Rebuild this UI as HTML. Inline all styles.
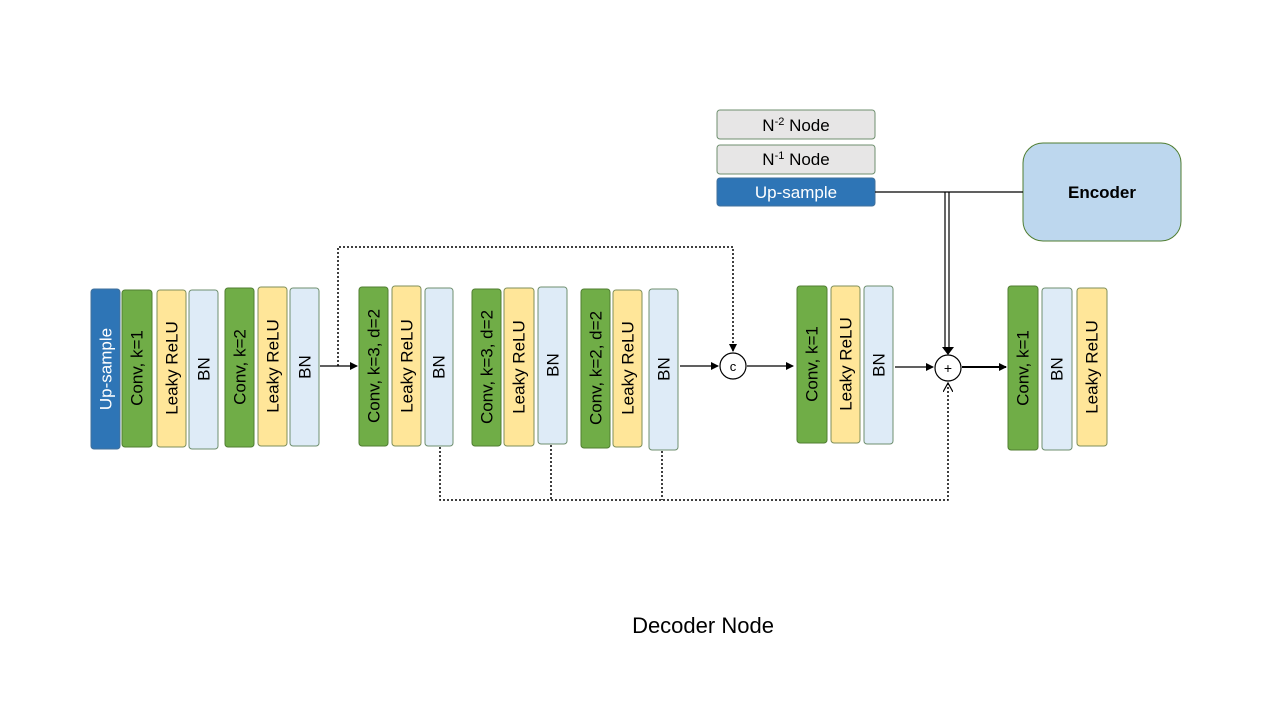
<!DOCTYPE html>
<html><head><meta charset="utf-8"><style>
html,body{margin:0;padding:0;background:#fff;}
svg{display:block;font-family:"Liberation Sans",sans-serif;}
</style></head><body>
<svg width="1275" height="707" viewBox="0 0 1275 707" xmlns="http://www.w3.org/2000/svg">
<defs>
<marker id="a" markerWidth="8" markerHeight="8" refX="7" refY="4" orient="auto" markerUnits="userSpaceOnUse"><path d="M0,0 L8,4 L0,8 z" fill="#000"/></marker>
<marker id="o" markerWidth="10" markerHeight="10" refX="9" refY="5" orient="auto" markerUnits="userSpaceOnUse"><path d="M0,0 L9,5 L0,10" fill="none" stroke="#000" stroke-width="1.2"/></marker>
</defs>
<g stroke-width="1">
<rect x="91" y="289" width="29" height="160" rx="3" fill="#2e75b6" stroke="#41719c"/>
<rect x="122" y="290" width="30" height="157" rx="3" fill="#70ad47" stroke="#507e32"/>
<rect x="157" y="290" width="29" height="157" rx="3" fill="#ffe699" stroke="#7f8f5a"/>
<rect x="189" y="290" width="29" height="159" rx="3" fill="#deebf7" stroke="#6f8f6f"/>
<rect x="225" y="288" width="29" height="159" rx="3" fill="#70ad47" stroke="#507e32"/>
<rect x="258" y="287" width="29" height="159" rx="3" fill="#ffe699" stroke="#7f8f5a"/>
<rect x="290" y="288" width="29" height="158" rx="3" fill="#deebf7" stroke="#6f8f6f"/>
<rect x="359" y="287" width="29" height="159" rx="3" fill="#70ad47" stroke="#507e32"/>
<rect x="392" y="286" width="29" height="160" rx="3" fill="#ffe699" stroke="#7f8f5a"/>
<rect x="425" y="288" width="28" height="158" rx="3" fill="#deebf7" stroke="#6f8f6f"/>
<rect x="472" y="289" width="29" height="157" rx="3" fill="#70ad47" stroke="#507e32"/>
<rect x="504" y="288" width="30" height="158" rx="3" fill="#ffe699" stroke="#7f8f5a"/>
<rect x="538" y="287" width="29" height="157" rx="3" fill="#deebf7" stroke="#6f8f6f"/>
<rect x="581" y="289" width="29" height="159" rx="3" fill="#70ad47" stroke="#507e32"/>
<rect x="613" y="290" width="29" height="157" rx="3" fill="#ffe699" stroke="#7f8f5a"/>
<rect x="649" y="289" width="29" height="161" rx="3" fill="#deebf7" stroke="#6f8f6f"/>
<rect x="797" y="286" width="30" height="157" rx="3" fill="#70ad47" stroke="#507e32"/>
<rect x="831" y="286" width="29" height="157" rx="3" fill="#ffe699" stroke="#7f8f5a"/>
<rect x="864" y="286" width="29" height="158" rx="3" fill="#deebf7" stroke="#6f8f6f"/>
<rect x="1008" y="286" width="30" height="164" rx="3" fill="#70ad47" stroke="#507e32"/>
<rect x="1042" y="288" width="30" height="162" rx="3" fill="#deebf7" stroke="#6f8f6f"/>
<rect x="1077" y="288" width="30" height="158" rx="3" fill="#ffe699" stroke="#7f8f5a"/>
<rect x="717" y="110" width="158" height="29" rx="3" fill="#e7e6e6" stroke="#6f8f6f"/>
<rect x="717" y="145" width="158" height="29" rx="3" fill="#e7e6e6" stroke="#6f8f6f"/>
<rect x="717" y="178" width="158" height="28" rx="3" fill="#2e75b6" stroke="#41719c"/>
<rect x="1023" y="143" width="158" height="98" rx="20" fill="#bdd7ee" stroke="#507e32"/>
</g>
<g font-size="17" text-anchor="middle" fill="#000">
<g dominant-baseline="central">
<text transform="translate(106,369) rotate(-90)" fill="#fff">Up-sample</text>
<text transform="translate(137,368) rotate(-90)">Conv, k=1</text>
<text transform="translate(172,368) rotate(-90)">Leaky ReLU</text>
<text transform="translate(204,369) rotate(-90)">BN</text>
<text transform="translate(240,367) rotate(-90)">Conv, k=2</text>
<text transform="translate(273,366) rotate(-90)">Leaky ReLU</text>
<text transform="translate(305,367) rotate(-90)">BN</text>
<text transform="translate(374,366) rotate(-90)">Conv, k=3, d=2</text>
<text transform="translate(407,366) rotate(-90)">Leaky ReLU</text>
<text transform="translate(439,367) rotate(-90)">BN</text>
<text transform="translate(487,367) rotate(-90)">Conv, k=3, d=2</text>
<text transform="translate(519,367) rotate(-90)">Leaky ReLU</text>
<text transform="translate(553,365) rotate(-90)">BN</text>
<text transform="translate(596,368) rotate(-90)">Conv, k=2, d=2</text>
<text transform="translate(628,368) rotate(-90)">Leaky ReLU</text>
<text transform="translate(664,369) rotate(-90)">BN</text>
<text transform="translate(812,364) rotate(-90)">Conv, k=1</text>
<text transform="translate(846,364) rotate(-90)">Leaky ReLU</text>
<text transform="translate(879,365) rotate(-90)">BN</text>
<text transform="translate(1023,368) rotate(-90)">Conv, k=1</text>
<text transform="translate(1057,369) rotate(-90)">BN</text>
<text transform="translate(1092,367) rotate(-90)">Leaky ReLU</text>
</g>
<text x="796" y="131">N<tspan dy="-6" font-size="11">-2</tspan><tspan dy="6"> Node</tspan></text>
<text x="796" y="165">N<tspan dy="-6" font-size="11">-1</tspan><tspan dy="6"> Node</tspan></text>
<text x="796" y="198" fill="#fff">Up-sample</text>
<text x="1102" y="198" font-weight="bold" font-size="17">Encoder</text>
<text x="703" y="633" font-size="22">Decoder Node</text>
</g>
<g stroke="#000" fill="none" stroke-width="1.2">
<line x1="320" y1="366" x2="357" y2="366" marker-end="url(#a)"/>
<polyline points="338,366 338,247 733,247 733,351" stroke-dasharray="2,2" stroke-width="1.5" marker-end="url(#a)"/>
<line x1="680" y1="366" x2="718" y2="366" marker-end="url(#a)"/>
<line x1="747" y1="366" x2="793" y2="366" marker-end="url(#a)"/>
<line x1="895" y1="367" x2="933" y2="367" marker-end="url(#a)"/>
<line x1="962" y1="367" x2="1006" y2="367" stroke-width="2" marker-end="url(#a)"/>
<line x1="875" y1="192" x2="1023" y2="192"/>
<line x1="945" y1="192" x2="945" y2="350"/>
<line x1="949" y1="192" x2="949" y2="350"/>
<path d="M942,347 L954,347 L948,355 z" fill="#000" stroke="none"/>
<polyline points="440,447 440,500 948,500 948,383" stroke-dasharray="2,2" stroke-width="1.5" marker-end="url(#o)"/>
<line x1="551" y1="445" x2="551" y2="500" stroke-dasharray="2,2" stroke-width="1.5"/>
<line x1="662" y1="451" x2="662" y2="500" stroke-dasharray="2,2" stroke-width="1.5"/>
<circle cx="733" cy="366" r="13" fill="#fff"/>
<circle cx="948" cy="368" r="13" fill="#fff"/>
</g>
<text x="733" y="371" font-size="13" text-anchor="middle">c</text>
<text x="948" y="373" font-size="14" text-anchor="middle">+</text>
</svg>
</body></html>
